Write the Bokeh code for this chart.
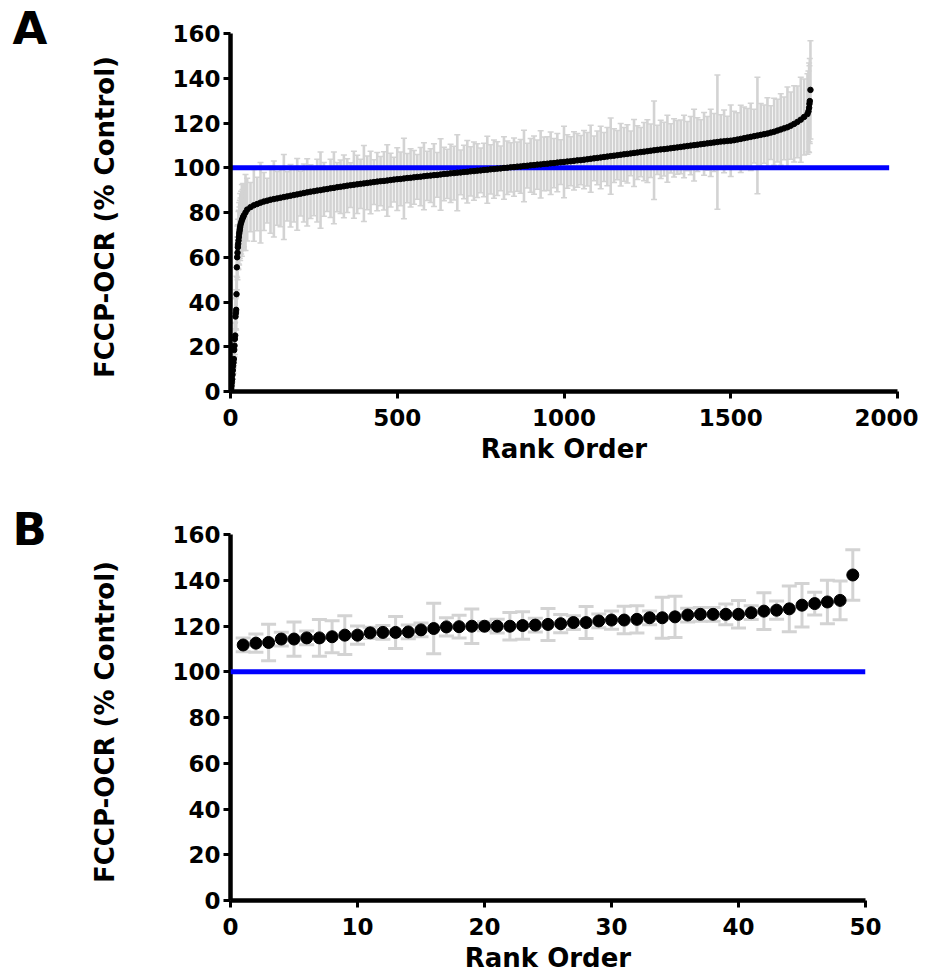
from bokeh.plotting import figure
from bokeh.layouts import column
from bokeh.models import Span, FixedTicker, Range1d, Title
from bokeh.embed import file_html
from bokeh.resources import INLINE
import numpy as np

# ---------------- Panel A data (rank-ordered FCCP-OCR, % control) ----------------
rank_a = (list(range(1, 31)) + [32, 34, 36, 38, 40, 45]
          + list(range(50, 1731, 10)) + [1733, 1735, 1736, 1737, 1739])

ocr_a = [
    0.5, 1.5, 2.5, 4.0, 5.5, 7.5, 9.5, 11.5, 13.0, 14.5,
    18.5, 20.5, 23.5, 25.0, 33.5, 35.0, 36.5, 43.5, 55.5, 60.0,
    62.0, 64.5, 66.0, 67.5, 69.0, 70.5, 71.5, 72.5, 73.5, 74.5,
    75.5, 76.5, 77.3, 78.0, 78.7, 80.0,
    # 50 .. 1730 every 10
    81.3, 82.4, 83.2, 83.8, 84.4, 84.9, 85.3, 85.7, 86.0, 86.3,
    86.6, 86.9, 87.2, 87.5, 87.8, 88.1, 88.4, 88.7, 89.0, 89.3,
    89.5, 89.8, 90.0, 90.3, 90.5, 90.8, 91.0, 91.3, 91.5, 91.7,
    92.0, 92.2, 92.4, 92.6, 92.8, 93.0, 93.2, 93.4, 93.6, 93.8,
    94.0, 94.1, 94.3, 94.5, 94.7, 94.9, 95.0, 95.2, 95.4, 95.5,
    95.7, 95.9, 96.0, 96.2, 96.4, 96.5, 96.7, 96.8, 97.0, 97.2,
    97.3, 97.5, 97.6, 97.8, 97.9, 98.1, 98.2, 98.4, 98.5, 98.7,
    98.8, 99.0, 99.1, 99.3, 99.4, 99.6, 99.7, 99.9, 100.0, 100.2,
    100.3, 100.5, 100.6, 100.8, 100.9, 101.1, 101.2, 101.4, 101.5, 101.7,
    101.8, 102.0, 102.1, 102.3, 102.5, 102.6, 102.8, 102.9, 103.1, 103.3,
    103.4, 103.6, 103.8, 104.0, 104.2, 104.4, 104.6, 104.8, 105.0, 105.2,
    105.4, 105.6, 105.8, 106.0, 106.2, 106.4, 106.6, 106.8, 107.0, 107.2,
    107.4, 107.6, 107.8, 108.0, 108.2, 108.3, 108.5, 108.7, 108.9, 109.1,
    109.3, 109.5, 109.7, 109.9, 110.1, 110.3, 110.5, 110.7, 110.9, 111.1,
    111.3, 111.5, 111.7, 111.8, 112.0, 112.1, 112.3, 112.6, 112.9, 113.2,
    113.5, 113.8, 114.1, 114.4, 114.7, 115.0, 115.3, 115.7, 116.1, 116.6,
    117.1, 117.6, 118.1, 118.8, 119.6, 120.5, 121.5, 122.7, 124.0,
    125.2, 126.8, 128.6, 129.8, 134.8,
]

sd_a = [
    1.5, 2, 2, 3, 2.5, 3, 4, 3, 5, 4,
    6, 5, 7, 6, 8, 7, 9, 8, 10, 9,
    12, 10, 11, 13, 12, 14, 11, 13, 15, 12,
    14, 16, 13, 15, 14, 17,
    14, 11, 16, 12, 18, 13, 10, 15, 17, 12,
    13, 19, 11, 14, 12, 16, 10, 13, 15, 12,
    11, 14, 17, 12, 10, 13, 16, 11, 12, 14,
    12, 10, 15, 13, 11, 17, 12, 14, 10, 13,
    11, 13, 16, 12, 10, 14, 12, 18, 11, 13,
    12, 10, 13, 15, 11, 12, 14, 10, 16, 12,
    11, 13, 12, 17, 10, 12, 14, 11, 13, 12,
    10, 12, 15, 11, 13, 12, 10, 14, 12, 11,
    13, 11, 12, 16, 10, 12, 13, 11, 15, 12,
    12, 14, 11, 13, 10, 16, 12, 11, 13, 12,
    11, 13, 12, 15, 10, 12, 14, 11, 13, 17,
    12, 11, 14, 12, 13, 10, 15, 12, 11, 13,
    14, 12, 22, 11, 13, 12, 15, 11, 13, 12,
    12, 14, 11, 13, 16, 12, 11, 14, 12, 15,
    13, 30, 12, 14, 11, 16, 13, 12, 15, 14,
    13, 15, 12, 26, 14, 13, 16, 12, 15, 14,
    16, 14, 18, 15, 17, 16, 19, 17, 18,
    18, 20, 17, 19, 22,
]

# ---------------- Panel B data (top 49 compounds) ----------------
rank_b = list(range(1, 50))
ocr_b = [
    111.7, 112.5, 112.8, 114.3, 114.3, 114.8, 114.8, 115.3, 116.0, 116.0,
    117.0, 117.2, 117.2, 117.4, 118.3, 118.9, 119.6, 119.7, 119.9, 119.9,
    119.9, 119.9, 120.2, 120.4, 120.7, 121.0, 121.5, 121.5, 122.2, 122.6,
    122.6, 122.9, 123.6, 123.6, 124.0, 124.8, 125.1, 125.1, 125.1, 125.1,
    125.8, 126.5, 126.9, 127.5, 129.1, 129.8, 130.5, 131.2, 142.3,
]
sd_b = [
    3, 4, 8, 3, 7.5, 3, 8, 7, 8.5, 4,
    2.5, 3, 7, 3, 3, 11, 4, 5, 7.5, 2,
    3, 6, 6, 3, 7, 4, 3, 7, 3, 4,
    6, 6, 3, 9, 9, 3, 3, 3, 4.5, 6,
    3, 8, 4, 10, 9.5, 5, 9.5, 8.5, 11,
]

baseline = 100
baseline_end_a = 1975
xticks_a = [0, 500, 1000, 1500, 2000]
xticks_b = [0, 10, 20, 30, 40, 50]
yticks = [0, 20, 40, 60, 80, 100, 120, 140, 160]
ylabel = "FCCP-OCR  (% Control)"
xlabel = "Rank Order"

FONT = "DejaVu Sans"
GRAY = "#d3d3d3"
BLUE = "#0000ff"


def style(p, xticks):
    p.xaxis.ticker = FixedTicker(ticks=xticks)
    p.yaxis.ticker = FixedTicker(ticks=yticks)
    for ax in (p.xaxis[0], p.yaxis[0]):
        ax.axis_line_width = 4.5
        ax.axis_line_color = "black"
        ax.major_tick_line_width = 3
        ax.major_tick_line_color = "black"
        ax.major_tick_in = 0
        ax.major_tick_out = 7
        ax.minor_tick_line_color = None
        ax.major_label_text_font = FONT
        ax.major_label_text_font_style = "bold"
        ax.major_label_text_font_size = "23px"
        ax.major_label_text_color = "black"
        ax.axis_label_text_font = FONT
        ax.axis_label_text_font_style = "bold"
        ax.axis_label_text_font_size = "26px"
        ax.axis_label_text_color = "black"
    p.xaxis.major_label_standoff = 10
    p.yaxis.major_label_standoff = 3
    p.xaxis.axis_label = xlabel
    p.yaxis.axis_label = ylabel
    p.xaxis.axis_label_standoff = 5
    p.yaxis.axis_label_standoff = 49
    p.grid.visible = False
    p.outline_line_color = None
    p.background_fill_color = "white"
    p.border_fill_color = "white"


def panel_letter(p, letter):
    p.add_layout(Title(text=letter, align="left", offset=-218, standoff=-42,
                       text_font=FONT, text_font_style="bold", text_color="black",
                       text_font_size="45px"), "above")


# ---------------- Panel A ----------------
ra = np.array(rank_a, dtype=float)
va = np.array(ocr_a)
ea = np.array(sd_a, dtype=float)

pA = figure(width=918, height=480, x_range=Range1d(0, 2000), y_range=Range1d(0, 160),
            output_backend="svg", toolbar_location=None,
            min_border_left=230, min_border_right=21, min_border_top=33, min_border_bottom=89)
style(pA, xticks_a)
pA.segment(x0=ra, y0=va - ea, x1=ra, y1=va + ea, line_color=GRAY, line_width=2.6)
pA.scatter(ra, va + ea, marker="dash", size=6, line_color=GRAY, line_width=1.5)
pA.scatter(ra, va - ea, marker="dash", size=6, line_color=GRAY, line_width=1.5)
pA.line([0, baseline_end_a], [baseline, baseline], line_color=BLUE, line_width=5)
pA.scatter(ra, va, size=5.5, fill_color="black", line_color="black")
panel_letter(pA, "A")

# ---------------- Panel B ----------------
rb = np.array(rank_b, dtype=float)
vb = np.array(ocr_b)
eb = np.array(sd_b, dtype=float)

pB = figure(width=886, height=495, x_range=Range1d(0, 50), y_range=Range1d(0, 160),
            output_backend="svg", toolbar_location=None,
            min_border_left=230, min_border_right=21, min_border_top=54, min_border_bottom=70)
style(pB, xticks_b)
pB.segment(x0=rb, y0=vb - eb, x1=rb, y1=vb + eb, line_color=GRAY, line_width=3)
pB.scatter(rb, vb + eb, marker="dash", size=15, line_color=GRAY, line_width=3)
pB.scatter(rb, vb - eb, marker="dash", size=15, line_color=GRAY, line_width=3)
pB.add_layout(Span(location=baseline, dimension="width", line_color=BLUE, line_width=5))
pB.scatter(rb, vb, size=12, fill_color="black", line_color="black")
panel_letter(pB, "B")

layout = column(pA, pB)
open("out.html", "w").write(file_html(layout, INLINE))
